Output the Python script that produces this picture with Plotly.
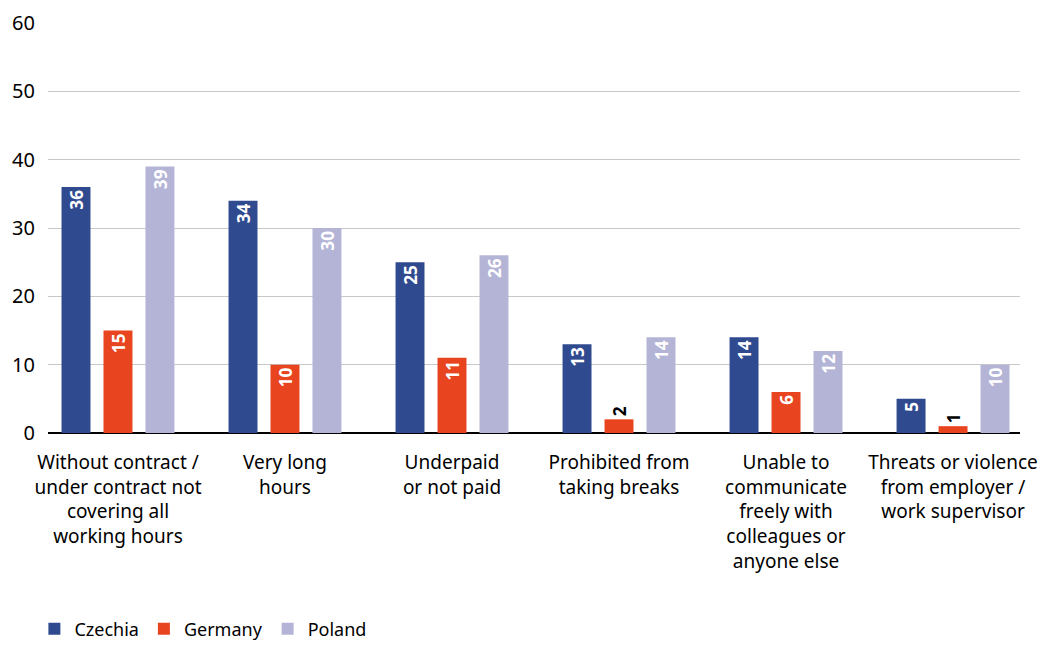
import plotly.graph_objects as go

categories = [
    "Without contract /<br>under contract not<br>covering all<br>working hours",
    "Very long<br>hours",
    "Underpaid<br>or not paid",
    "Prohibited from<br>taking breaks",
    "Unable to<br>communicate<br>freely with<br>colleagues or<br>anyone else",
    "Threats or violence<br>from employer /<br>work supervisor",
]
czechia = [36, 34, 25, 13, 14, 5]
germany = [15, 10, 11, 2, 6, 1]
poland = [39, 30, 26, 14, 12, 10]

series = [
    ("Czechia", czechia, "#2f4a8f"),
    ("Germany", germany, "#e8441f"),
    ("Poland", poland, "#b4b4d6"),
]

FONT = "Noto Sans"
fig = go.Figure()
for name, vals, color in series:
    inside = [v >= 4 for v in vals]
    fig.add_trace(go.Bar(
        name=name,
        x=categories,
        y=vals,
        marker=dict(color=color, line=dict(width=0)),
        text=["<b>%d</b>" % v for v in vals],
        textposition=["inside" if ok else "outside" for ok in inside],
        insidetextanchor="end",
        textangle=-90,
        textfont=dict(family=FONT, size=18,
                      color=["white" if ok else "black" for ok in inside]),
        cliponaxis=False,
        hoverinfo="skip",
    ))

fig.update_layout(
    barmode="group",
    bargap=0.246,
    bargroupgap=0.31,
    width=1042,
    height=645,
    margin=dict(l=48, r=22, t=23, b=212, autoexpand=False),
    paper_bgcolor="white",
    plot_bgcolor="white",
    font=dict(family=FONT, size=19, color="black"),
    uniformtext=dict(minsize=14, mode="show"),
    legend=dict(
        orientation="h",
        x=-0.014, xanchor="left",
        y=-0.478, yanchor="middle",
        font=dict(family=FONT, size=18),
        itemwidth=30,
        traceorder="normal",
    ),
    xaxis=dict(
        range=[-0.419, 5.401],
        showgrid=False,
        tickfont=dict(family=FONT, size=19),
        ticks="",
        showline=False,
        ticklabelstandoff=16,
    ),
    yaxis=dict(
        range=[0, 60],
        dtick=10,
        showgrid=True,
        gridcolor="#c8c8c8",
        gridwidth=1,
        zeroline=True,
        zerolinecolor="black",
        zerolinewidth=2,
        tickfont=dict(family=FONT, size=20),
        ticklabelstandoff=12,
    ),
)

fig.write_html("out.html")
